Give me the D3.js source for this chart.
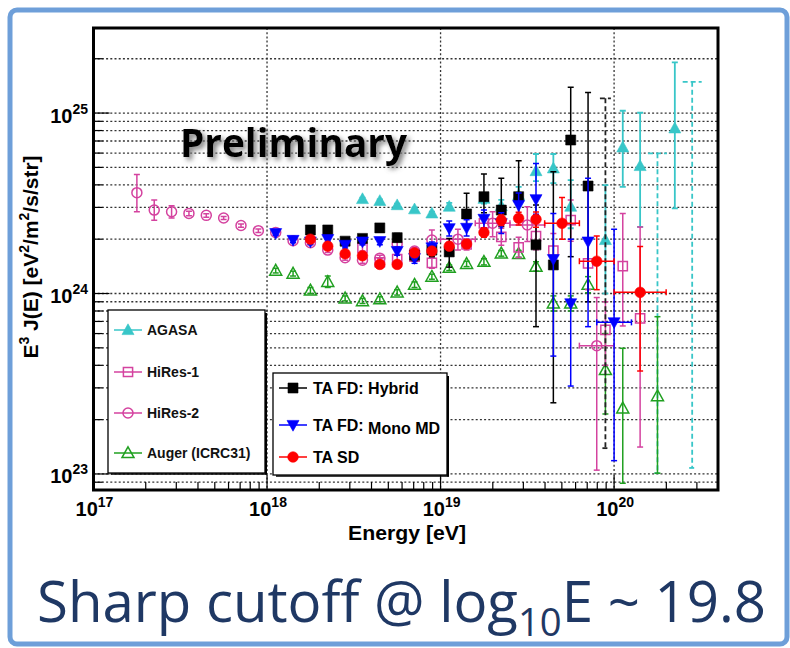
<!DOCTYPE html>
<html><head><meta charset="utf-8">
<script src="https://cdn.jsdelivr.net/npm/d3@7"></script>
<style>body{margin:0;background:#fff;} svg{display:block;}</style>
</head><body>
<svg id="c" width="790" height="648"></svg>
<script>
// ---------- DATA (energy as log10(E/eV), flux E^3 J(E) in units of 1e24 eV^2/m^2/s/str) ----------
const xTickExp = [17, 18, 19, 20];
const yTickExp = [23, 24, 25];

const agasaE  = [18.55, 18.65, 18.75, 18.85, 18.95, 19.05, 19.25, 19.35, 19.45, 19.55, 19.65, 19.75, 19.95, 20.05, 20.15, 20.35];
const agasaJ  = [3.34, 3.26, 3.09, 2.93, 2.78, 3.03, 3.35, 3.05, 3.51, 4.77, 4.94, 3.03, 1.98, 6.46, 5.09, 8.23];
const agasaLo = [3.28, 3.20, 3.03, 2.87, 2.72, 2.90, 3.15, 2.80, 3.20, 4.20, 4.09, 2.30, 1.00, 3.90, 2.34, 2.96];
const agasaHi = [3.40, 3.32, 3.15, 2.99, 2.84, 3.18, 3.60, 3.30, 3.90, 5.93, 5.93, 4.25, 3.99, 10.3, 10.04, 19.1];
const agasaUlE = [20.25, 20.45];
const agasaUlTop = [5.98, 14.9];
const agasaUlBot = [0.101, 0.108];

const hires1E  = [18.55, 18.65, 18.75, 18.85, 18.95, 19.15, 19.25, 19.35, 19.45, 19.55, 19.65, 19.75, 19.85, 19.95, 20.05, 20.15];
const hires1J  = [1.79, 1.49, 1.55, 1.60, 1.48, 1.87, 2.45, 2.06, 1.80, 2.08, 1.73, 2.55, 1.47, 0.628, 1.42, 0.729];
const hires1Lo = [1.72, 1.42, 1.47, 1.51, 1.38, 1.74, 2.25, 1.85, 1.58, 1.75, 1.40, 1.95, 1.05, 0.40, 0.661, 0.141];
const hires1Hi = [1.86, 1.56, 1.63, 1.69, 1.58, 2.00, 2.70, 2.30, 2.05, 2.50, 2.15, 3.30, 1.95, 0.90, 2.78, 2.34];

const hires2E   = [17.25, 17.35, 17.45, 17.55, 17.65, 17.75, 17.85, 17.95, 18.05, 18.15, 18.25, 18.35, 18.45, 18.55, 18.65, 18.75, 18.85, 18.95, 19.10, 19.30, 19.50, 19.90];
const hires2J   = [3.62, 2.90, 2.84, 2.78, 2.71, 2.62, 2.38, 2.23, 2.18, 1.96, 1.91, 1.74, 1.58, 1.53, 1.57, 1.88, 1.72, 1.98, 2.00, 2.45, 2.40, 0.514];
const hires2Lo  = [2.84, 2.55, 2.62, 2.70, 2.65, 2.57, 2.33, 2.18, 2.13, 1.91, 1.86, 1.69, 1.53, 1.47, 1.51, 1.80, 1.64, 1.80, 1.74, 2.06, 1.94, 0.105];
const hires2Hi  = [4.57, 3.30, 3.06, 2.86, 2.77, 2.67, 2.43, 2.28, 2.23, 2.01, 1.96, 1.79, 1.63, 1.59, 1.63, 1.96, 1.80, 2.25, 2.27, 2.84, 3.03, 0.95];
const hires2ELo = [null, null, null, null, null, null, null, null, null, null, null, null, null, null, null, null, null, null, 19.0, 19.2, 19.4, 19.8];
const hires2EHi = [null, null, null, null, null, null, null, null, null, null, null, null, null, null, null, null, null, null, 19.2, 19.4, 19.6, 20.0];

const augerE  = [18.05, 18.15, 18.25, 18.35, 18.45, 18.55, 18.65, 18.75, 18.85, 18.95, 19.05, 19.15, 19.25, 19.35, 19.45, 19.55, 19.65, 19.75, 19.85, 19.95, 20.05, 20.25];
const augerJ  = [1.34, 1.29, 1.04, 1.16, 0.94, 0.908, 0.93, 1.015, 1.12, 1.24, 1.39, 1.46, 1.50, 1.67, 1.66, 1.41, 0.882, 0.882, 1.12, 0.377, 0.231, 0.270];
const augerLo = [1.30, 1.25, 1.00, 1.08, 0.91, 0.88, 0.90, 0.98, 1.08, 1.20, 1.34, 1.41, 1.44, 1.61, 1.59, 1.33, 0.80, 0.80, 1.01, 0.215, 0.0888, 0.101];
const augerHi = [1.38, 1.33, 1.08, 1.25, 0.97, 0.94, 0.96, 1.05, 1.16, 1.28, 1.44, 1.51, 1.56, 1.73, 1.73, 1.50, 0.97, 0.97, 1.24, 0.60, 0.497, 0.744];

const hybE  = [18.25, 18.35, 18.45, 18.55, 18.65, 18.75, 18.85, 18.95, 19.05, 19.15, 19.25, 19.35, 19.45, 19.55, 19.65, 19.75, 19.85];
const hybJ  = [2.25, 2.25, 1.95, 2.02, 2.31, 2.04, 1.63, 1.74, 1.70, 2.76, 3.44, 2.90, 3.44, 1.86, 1.44, 7.09, 3.94];
const hybLo = [2.17, 2.17, 1.87, 1.93, 2.20, 1.94, 1.52, 1.60, 1.40, 2.35, 2.80, 2.35, 2.60, 0.655, 0.248, 1.6, 0.9];
const hybHi = [2.33, 2.33, 2.04, 2.11, 2.42, 2.15, 1.75, 1.88, 2.02, 3.59, 4.59, 4.35, 5.44, 3.09, 4.73, 13.9, 13.0];
const hybUlE = [19.95];
const hybUlTop = [12.06];
const hybUlBot = [0.139];

const monoE   = [18.05, 18.15, 18.25, 18.35, 18.45, 18.55, 18.65, 18.75, 18.85, 18.95, 19.05, 19.15, 19.25, 19.35, 19.45, 19.55, 19.65, 19.75, 19.85, 20.0];
const monoJ   = [2.16, 1.98, 1.94, 2.00, 1.86, 1.94, 1.95, 1.72, 1.57, 1.80, 2.30, 2.31, 2.59, 2.45, 3.09, 3.33, 1.55, 0.882, 1.94, 0.692];
const monoLo  = [2.10, 1.92, 1.87, 1.93, 1.79, 1.86, 1.86, 1.63, 1.47, 1.67, 2.08, 2.08, 2.30, 2.15, 2.65, 2.75, 0.45, 0.307, 0.655, 0.1185];
const monoHi  = [2.22, 2.04, 2.01, 2.07, 1.93, 2.02, 2.04, 1.81, 1.67, 1.93, 2.52, 2.56, 2.90, 2.80, 3.60, 5.26, 2.78, 2.00, 4.35, 2.27];
const monoELo = [null, null, null, null, null, null, null, null, null, null, null, null, null, null, null, null, null, null, null, 19.9];
const monoEHi = [null, null, null, null, null, null, null, null, null, null, null, null, null, null, null, null, null, null, null, 20.1];

const sdE   = [18.25, 18.35, 18.45, 18.55, 18.65, 18.75, 18.85, 18.95, 19.05, 19.15, 19.25, 19.35, 19.45, 19.55, 19.70, 19.90, 20.15];
const sdJ   = [2.00, 1.83, 1.66, 1.62, 1.45, 1.45, 1.68, 1.72, 1.83, 1.88, 2.18, 2.55, 2.61, 2.58, 2.45, 1.51, 1.015];
const sdLo  = [1.95, 1.78, 1.61, 1.56, 1.39, 1.39, 1.60, 1.64, 1.74, 1.78, 2.05, 2.38, 2.40, 2.33, 2.00, 1.05, 0.372];
const sdHi  = [2.05, 1.88, 1.71, 1.68, 1.51, 1.51, 1.76, 1.80, 1.92, 1.98, 2.31, 2.72, 2.82, 2.83, 3.40, 2.08, 1.82];
const sdELo = [null, null, null, null, null, null, null, null, null, null, null, null, null, null, 19.6, 19.8, 20.0];
const sdEHi = [null, null, null, null, null, null, null, null, null, null, null, null, null, null, 19.8, 20.0, 20.3];

// ---------- SETUP ----------
const svg = d3.select('#c');
const ROOTF = 'Liberation Sans, Arial, Helvetica, sans-serif';
const C = {cyan:'#38c6c8', pink:'#d4429f', green:'#20a020', black:'#000', blue:'#0000ff', red:'#ff0000'};

const x = d3.scaleLog().domain([1e17, 3.97e20]).range([93.5, 718]);
const y = d3.scaleLog().domain([0.0815, 29.6]).range([490, 28]);
const X = le => x(Math.pow(10, le));
const x0 = 93.5, x1 = 718, y0 = 490, y1 = 28;

// outer border
svg.append('rect').attr('x',10).attr('y',10).attr('width',777).attr('height',634).attr('rx',7)
  .attr('fill','#fff').attr('stroke','#6e9fd9').attr('stroke-width',5);

// defs
const defs = svg.append('defs');
defs.append('clipPath').attr('id','clip').append('rect').attr('x',x0).attr('y',y1).attr('width',x1-x0).attr('height',y0-y1);
const f = defs.append('filter').attr('id','shadow').attr('x','-10%').attr('y','-20%').attr('width','130%').attr('height','160%');
f.append('feDropShadow').attr('dx',3).attr('dy',3).attr('stdDeviation',2.4).attr('flood-color','#777').attr('flood-opacity',0.9);

// ---------- GRID ----------
const grid = svg.append('g');
const yGridVals = [];
[-2,-1,0,1].forEach(d => { for (let k=1;k<=9;k++){ const v=k*Math.pow(10,d); if (v>y.domain()[0] && v<y.domain()[1]) yGridVals.push(v);} });
grid.selectAll('line.h').data(yGridVals).enter().append('line')
  .attr('x1',x0).attr('x2',x1).attr('y1',d=>y(d)).attr('y2',d=>y(d))
  .attr('stroke','#333').attr('stroke-width',1.3).attr('stroke-dasharray','2,2.2');
grid.selectAll('line.v').data(xTickExp.slice(1)).enter().append('line')
  .attr('x1',d=>x(Math.pow(10,d))).attr('x2',d=>x(Math.pow(10,d))).attr('y1',y1).attr('y2',y0)
  .attr('stroke','#333').attr('stroke-width',1.3).attr('stroke-dasharray','2,2.2');

// ---------- TICKS ----------
const ticks = svg.append('g').attr('stroke','#000').attr('stroke-width',1.2);
yGridVals.forEach(v => {
  const major = Math.abs(Math.log10(v) - Math.round(Math.log10(v))) < 1e-9;
  ticks.append('line').attr('x1',x0).attr('x2',x0+(major?16:9)).attr('y1',y(v)).attr('y2',y(v));
});
const xMinor = [];
[17,18,19,20].forEach(d => { for (let k=1;k<=9;k++){ const v=k*Math.pow(10,d); if (v>=x.domain()[0] && v<=x.domain()[1]) xMinor.push(v);} });
xMinor.forEach(v => {
  const major = Math.abs(Math.log10(v) - Math.round(Math.log10(v))) < 1e-9;
  ticks.append('line').attr('x1',x(v)).attr('x2',x(v)).attr('y1',y0).attr('y2',y0-(major?15:8));
});

// tick labels
function powLabel(px, py, exp, anchor){
  const t = svg.append('text').attr('x',px).attr('y',py).attr('text-anchor',anchor)
    .attr('font-family',ROOTF).attr('font-weight','bold').attr('font-size',20).attr('fill','#000');
  t.append('tspan').text('10');
  t.append('tspan').attr('dy',-9).attr('font-size',14).text(exp);
}
xTickExp.forEach(e => powLabel(x(Math.pow(10,e))+1, 516, e, 'middle'));
yTickExp.forEach(e => powLabel(88, y(Math.pow(10,e-24))+9.5, e, 'end'));

// axis titles
svg.append('text').attr('x',407).attr('y',540).attr('text-anchor','middle')
  .attr('font-family',ROOTF).attr('font-weight','bold').attr('font-size',20).attr('textLength',118)
  .attr('lengthAdjust','spacingAndGlyphs').text('Energy [eV]');
const yt = svg.append('text').attr('transform','translate(38,257) rotate(-90)').attr('text-anchor','middle')
  .attr('font-family',ROOTF).attr('font-weight','bold').attr('font-size',21);
[['E',0],['3',1],[' J(E) [eV',0],['2',1],['/m',0],['2',1],['/s/str]',0]].forEach(([s,sup],i,arr)=>{
  const prevSup = i>0 ? arr[i-1][1] : 0;
  const ts = yt.append('tspan').text(s);
  if (sup && !prevSup) ts.attr('dy',-9).attr('font-size',14);
  else if (!sup && prevSup) ts.attr('dy',9);
});

// ---------- DATA LAYER ----------
const plot = svg.append('g').attr('clip-path','url(#clip)');

function markerPath(type, cx, cy){
  switch(type){
    case 'tri': case 'otri': return `M${cx},${cy-6.2}L${cx+6},${cy+4.6}L${cx-6},${cy+4.6}Z`;
    case 'dtri': return `M${cx-6},${cy-4.6}L${cx+6},${cy-4.6}L${cx},${cy+6.2}Z`;
    case 'sq': return `M${cx-5},${cy-5}h10v10h-10Z`;
    case 'osq': return `M${cx-4.6},${cy-4.6}h9.2v9.2h-9.2Z`;
    case 'circ': return `M${cx-5.3},${cy}a5.3,5.3 0 1,0 10.6,0a5.3,5.3 0 1,0 -10.6,0Z`;
    case 'ocirc': return `M${cx-5},${cy}a5,5 0 1,0 10,0a5,5 0 1,0 -10,0Z`;
  }
}
function drawMarker(g, type, cx, cy, color){
  const open = type.startsWith('o');
  g.append('path').attr('d', markerPath(type,cx,cy))
    .attr('fill', open ? 'none' : color).attr('stroke', color).attr('stroke-width', open ? 1.5 : 0.6);
}

function drawSeries(E, J, lo, hi, ELo, EHi, type, color, lw){
  const g = plot.append('g').attr('stroke',color).attr('stroke-width',lw);
  E.forEach((e,i) => {
    const cx = X(e), cy = y(J[i]);
    if (lo && lo[i] != null) {
      const ya = y(lo[i]), yb = y(hi[i]);
      g.append('line').attr('x1',cx).attr('x2',cx).attr('y1',ya).attr('y2',yb);
      g.append('line').attr('x1',cx-3).attr('x2',cx+3).attr('y1',ya).attr('y2',ya);
      g.append('line').attr('x1',cx-3).attr('x2',cx+3).attr('y1',yb).attr('y2',yb);
    }
    if (ELo && ELo[i] != null) {
      const xa = X(ELo[i]), xb = X(EHi[i]);
      g.append('line').attr('x1',xa).attr('x2',xb).attr('y1',cy).attr('y2',cy);
      g.append('line').attr('x1',xa).attr('x2',xa).attr('y1',cy-3).attr('y2',cy+3);
      g.append('line').attr('x1',xb).attr('x2',xb).attr('y1',cy-3).attr('y2',cy+3);
    }
  });
  E.forEach((e,i) => drawMarker(g, type, X(e), y(J[i]), color));
}
function drawUL(E, top, bot, color, capW){
  const g = plot.append('g').attr('stroke',color).attr('stroke-width',1.8).attr('stroke-dasharray','5,3');
  E.forEach((e,i)=>{
    const cx = X(e), ya = y(top[i]), yb = y(bot[i]);
    g.append('line').attr('x1',cx).attr('x2',cx).attr('y1',ya).attr('y2',yb);
    g.append('line').attr('x1',cx-capW/2).attr('x2',cx+capW/2).attr('y1',ya).attr('y2',ya);
    g.append('line').attr('x1',cx-3).attr('x2',cx+3).attr('y1',yb).attr('y2',yb).attr('stroke-dasharray',null);
  });
}

drawSeries(agasaE, agasaJ, agasaLo, agasaHi, null, null, 'tri', C.cyan, 1.8);
drawUL(agasaUlE, agasaUlTop, agasaUlBot, C.cyan, 19);
drawSeries(augerE, augerJ, augerLo, augerHi, null, null, 'otri', C.green, 1.5);
drawSeries(hires1E, hires1J, hires1Lo, hires1Hi, null, null, 'osq', C.pink, 1.5);
drawSeries(hires2E, hires2J, hires2Lo, hires2Hi, hires2ELo, hires2EHi, 'ocirc', C.pink, 1.5);
drawSeries(hybE, hybJ, hybLo, hybHi, null, null, 'sq', C.black, 1.5);
drawUL(hybUlE, hybUlTop, hybUlBot, '#222', 11);
drawSeries(monoE, monoJ, monoLo, monoHi, monoELo, monoEHi, 'dtri', C.blue, 1.5);
drawSeries(sdE, sdJ, sdLo, sdHi, sdELo, sdEHi, 'circ', C.red, 1.5);

// frame
svg.append('rect').attr('x',x0).attr('y',y1).attr('width',x1-x0).attr('height',y0-y1)
  .attr('fill','none').attr('stroke','#000').attr('stroke-width',3);

// ---------- LEGENDS ----------
const legL = [
  {label:'AGASA', type:'tri', color:C.cyan},
  {label:'HiRes-1', type:'osq', color:C.pink},
  {label:'HiRes-2', type:'ocirc', color:C.pink},
  {label:'Auger (ICRC31)', type:'otri', color:C.green}
];
const legR = [
  {label:'TA FD: Hybrid', type:'sq', color:C.black},
  {label:'TA FD: ', label2:'Mono MD', type:'dtri', color:C.blue},
  {label:'TA SD', type:'circ', color:C.red}
];
function legendBox(bx, by, bw, bh){
  const g = svg.append('g');
  g.append('rect').attr('x',bx).attr('y',by).attr('width',bw).attr('height',bh)
    .attr('fill','#fff').attr('stroke','#000').attr('stroke-width',1.3);
  g.append('line').attr('x1',bx+bw+1).attr('x2',bx+bw+1).attr('y1',by+3).attr('y2',by+bh+1.5).attr('stroke','#000').attr('stroke-width',2);
  g.append('line').attr('x1',bx+3).attr('x2',bx+bw+2).attr('y1',by+bh+1).attr('y2',by+bh+1).attr('stroke','#000').attr('stroke-width',1.6);
  return g;
}
const gl = legendBox(108, 310, 157, 163);
[330, 372, 413, 453].forEach((cy,i)=>{
  const d = legL[i];
  gl.append('line').attr('x1',114).attr('x2',142).attr('y1',cy).attr('y2',cy).attr('stroke',d.color).attr('stroke-width',1.5);
  drawMarker(gl, d.type, 128, cy, d.color);
  gl.append('text').attr('x',147).attr('y',cy+5).attr('font-family',ROOTF).attr('font-weight','bold')
    .attr('font-size',14).attr('fill','#111').text(d.label);
});
const gr = legendBox(273, 373, 174, 102);
[388, 425, 457].forEach((cy,i)=>{
  const d = legR[i];
  gr.append('line').attr('x1',279).attr('x2',307).attr('y1',cy).attr('y2',cy).attr('stroke',d.color).attr('stroke-width',1.5);
  drawMarker(gr, d.type, 293, cy, d.color);
  const t = gr.append('text').attr('x',313).attr('y',cy+6).attr('font-family',ROOTF).attr('font-weight','bold')
    .attr('font-size',16).attr('fill','#000');
  t.append('tspan').text(d.label);
  if (d.label2) t.append('tspan').attr('dy',2.5).text(d.label2);
});

// ---------- ANNOTATIONS ----------
svg.append('text').attr('x',180).attr('y',157).attr('font-family','Open Sans, Lato, sans-serif')
  .attr('font-weight',700).attr('font-size',40).attr('textLength',227).attr('lengthAdjust','spacingAndGlyphs')
  .attr('fill','#000').attr('filter','url(#shadow)').text('Preliminary');

const cap = svg.append('text').attr('x',37).attr('y',622).attr('font-family','Open Sans, Lato, sans-serif')
  .attr('font-size',56).attr('fill','#1f3864').attr('textLength',729).attr('lengthAdjust','spacingAndGlyphs');
cap.append('tspan').text('Sharp cutoff @ log');
cap.append('tspan').attr('dy',14).attr('font-size',38).text('10');
cap.append('tspan').attr('dy',-14).text('E ~ 19.8');
</script>
</body></html>
